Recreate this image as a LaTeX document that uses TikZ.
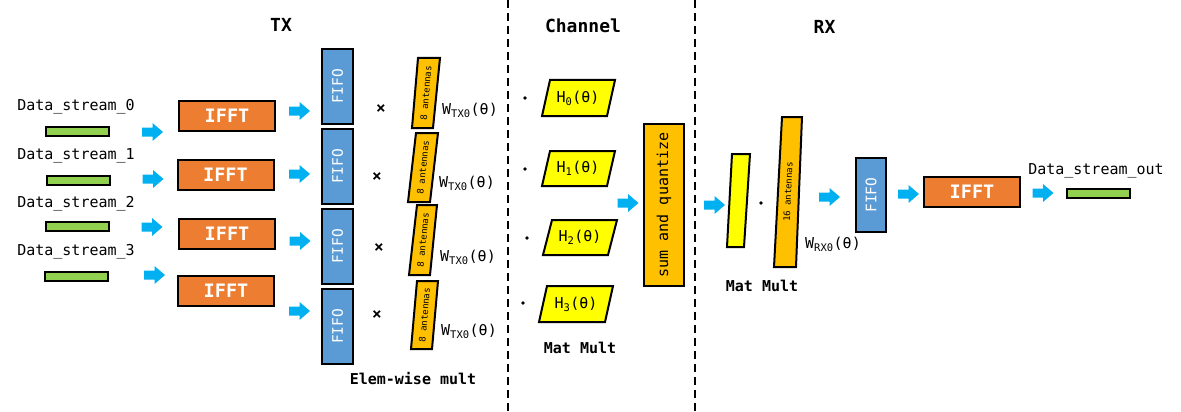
\documentclass[tikz,border=0pt]{standalone}
\usepackage{fontspec}
\setmainfont{DejaVu Sans Mono}
\setmonofont{DejaVu Sans Mono}
\definecolor{cOrange}{HTML}{ED7D31}
\definecolor{cBlue}{HTML}{5B9BD5}
\definecolor{cGreen}{HTML}{92D050}
\definecolor{cYellow}{HTML}{FFFF00}
\definecolor{cGold}{HTML}{FFC000}
\definecolor{cArrow}{HTML}{00B0F0}
\newcommand{\fs}[1]{\fontsize{#1}{#1}\selectfont}
\tikzset{
  box/.style={draw=black, line width=2pt, inner sep=0pt},
  bar/.style={box, fill=cGreen, minimum width=63pt, minimum height=9pt},
  ifft/.style={box, fill=cOrange, minimum width=96pt, minimum height=30pt, text=white, font=\fs{18.5}\bfseries},
  fifo/.style={box, fill=cBlue, minimum width=31pt, minimum height=75pt},
  fifotxt/.style={text=white, font=\fs{14.5}, rotate=90},
  lbl/.style={font=\fs{15}, inner sep=0pt},
  ttl/.style={font=\fs{18}\bfseries, inner sep=0pt},
  sub/.style={font=\fs{15}\bfseries, inner sep=0pt},
  para/.style={draw=black, line width=2pt, line join=miter},
  barrow/.pic={\fill[cArrow] (-10.5,-4.5) -- (0,-4.5) -- (0,-9) -- (10.5,0) -- (0,9) -- (0,4.5) -- (-10.5,4.5) -- cycle;},
  dashline/.style={line width=2pt, dash pattern=on 8pt off 5pt}
}
\begin{document}
\begin{tikzpicture}[x=1pt,y=-1pt]
\useasboundingbox (0,0) rectangle (1181,412);

% section dividers
\coordinate (d1t) at (508,0); \coordinate (d1b) at (508,412);
\coordinate (d2t) at (695,0); \coordinate (d2b) at (695,412);
\draw[dashline] (d1t) -- (d1b);
\draw[dashline] (d2t) -- (d2b);

% titles
\node[ttl] (tTX) at (281,25) {TX};
\node[ttl] (tCh) at (583,25.5) {Channel};
\node[ttl] (tRX) at (824.5,27) {RX};

% data streams
\node[lbl] (ds0) at (76,107) {Data\_stream\_0};
\node[lbl] (ds1) at (76,156) {Data\_stream\_1};
\node[lbl] (ds2) at (76,204) {Data\_stream\_2};
\node[lbl] (ds3) at (76,252) {Data\_stream\_3};
\node[bar] (b0) at (77.5,131.5) {};
\node[bar] (b1) at (78.5,180.5) {};
\node[bar] (b2) at (77.5,226.5) {};
\node[bar] (b3) at (76,276) {};

% arrows into IFFT
\pic (a0) at (152.5,132) {barrow};
\pic (a1) at (153,179) {barrow};
\pic (a2) at (152,227) {barrow};
\pic (a3) at (154.5,275) {barrow};

% IFFT boxes
\node[ifft] (f0) at (227,116) {IFFT};
\node[ifft] (f1) at (225.5,175) {IFFT};
\node[ifft] (f2) at (227,234) {IFFT};
\node[ifft] (f3) at (226,291) {IFFT};

% arrows into FIFO
\pic (c0) at (299.5,111) {barrow};
\pic (c1) at (299.5,174) {barrow};
\pic (c2) at (300,241) {barrow};
\pic (c3) at (299.5,311) {barrow};

% FIFOs
\node[fifo] (q0) at (337.5,86.5) {};
\node[fifo] (q1) at (337.5,166.5) {};
\node[fifo] (q2) at (337.5,246.5) {};
\node[fifo] (q3) at (337.5,326.5) {};
\foreach \n in {q0,q1,q2,q3} \node[fifotxt] at (\n) {FIFO};

% multiplication signs
\node[lbl, font=\fs{16}\bfseries] (x0) at (381,109) {×};
\node[lbl, font=\fs{16}\bfseries] (x1) at (377,177) {×};
\node[lbl, font=\fs{16}\bfseries] (x2) at (379,248) {×};
\node[lbl, font=\fs{16}\bfseries] (x3) at (377,315) {×};

% TX antenna weights
\draw[para, fill=cGold] (418,58) -- (440,58) -- (433,128) -- (412,128) -- cycle;
\node[font=\fs{9}, rotate=85, inner sep=0pt] (w0) at (426,93) {8 antennas};
\draw[para, fill=cGold] (416,133) -- (438,133) -- (430,202) -- (408,202) -- cycle;
\node[font=\fs{9}, rotate=84, inner sep=0pt] (w1) at (423,167.5) {8 antennas};
\draw[para, fill=cGold] (417,205) -- (437,205) -- (430,275) -- (409,275) -- cycle;
\node[font=\fs{9}, rotate=84.5, inner sep=0pt] (w2) at (423,240) {8 antennas};
\draw[para, fill=cGold] (417,281) -- (438,281) -- (432,349) -- (411,349) -- cycle;
\node[font=\fs{9}, rotate=85, inner sep=0pt] (w3) at (424.5,315) {8 antennas};

\node[lbl] (wl0) at (470,110) {W\textsubscript{TX0}(θ)};
\node[lbl] (wl1) at (467,183) {W\textsubscript{TX0}(θ)};
\node[lbl] (wl2) at (468,257) {W\textsubscript{TX0}(θ)};
\node[lbl] (wl3) at (469,331) {W\textsubscript{TX0}(θ)};

\node[sub] (ew) at (413,379) {Elem-wise mult};

% channel
\foreach \x/\y [count=\i from 0] in {525/98, 525/169, 527/238, 523/303}
  \fill (\x,\y) circle (1.9pt);
\draw[para, fill=cYellow] (550,80) -- (615,80) -- (607,116) -- (542,116) -- cycle;
\node[lbl] (h0) at (578,98) {H\textsubscript{0}(θ)};
\draw[para, fill=cYellow] (550,151) -- (615,151) -- (607,186) -- (542,186) -- cycle;
\node[lbl] (h1) at (578,168) {H\textsubscript{1}(θ)};
\draw[para, fill=cYellow] (552,220) -- (617,220) -- (608,255) -- (543,255) -- cycle;
\node[lbl] (h2) at (580,237) {H\textsubscript{2}(θ)};
\draw[para, fill=cYellow] (547,286) -- (613,286) -- (605,322) -- (539,322) -- cycle;
\node[lbl] (h3) at (576,304) {H\textsubscript{3}(θ)};

\node[sub] (mm1) at (580,348) {Mat Mult};

\pic (s0) at (628,203) {barrow};
\node[box, fill=cGold, minimum width=40pt, minimum height=162pt] (sq) at (664,205) {};
\node[font=\fs{15}, rotate=90] at (sq) {sum and quantize};

% RX
\pic (r0) at (714.5,205) {barrow};
\draw[para, fill=cYellow] (732,154) -- (750,154) -- (744,247) -- (727,247) -- cycle;
\fill (761,203) circle (1.9pt);
\draw[para, fill=cGold] (782,117) -- (802,117) -- (796,267) -- (774,267) -- cycle;
\node[font=\fs{9}, rotate=87.5, inner sep=0pt] (w16) at (788,192) {16 antennas};
\node[lbl] (wrx) at (833,244) {W\textsubscript{RX0}(θ)};
\node[sub] (mm2) at (762,286) {Mat Mult};

\pic (r1) at (829.5,197) {barrow};
\node[box, fill=cBlue, minimum width=30pt, minimum height=74pt] (qr) at (871,195) {};
\node[fifotxt] at (qr) {FIFO};

\pic (r2) at (908.5,194) {barrow};
\node[ifft] (fr) at (972,192) {IFFT};
\pic (r3) at (1043,193) {barrow};
\node[bar] (bo) at (1098.5,193) {};
\node[lbl] (dso) at (1096,171) {Data\_stream\_out};
\end{tikzpicture}
\end{document}
